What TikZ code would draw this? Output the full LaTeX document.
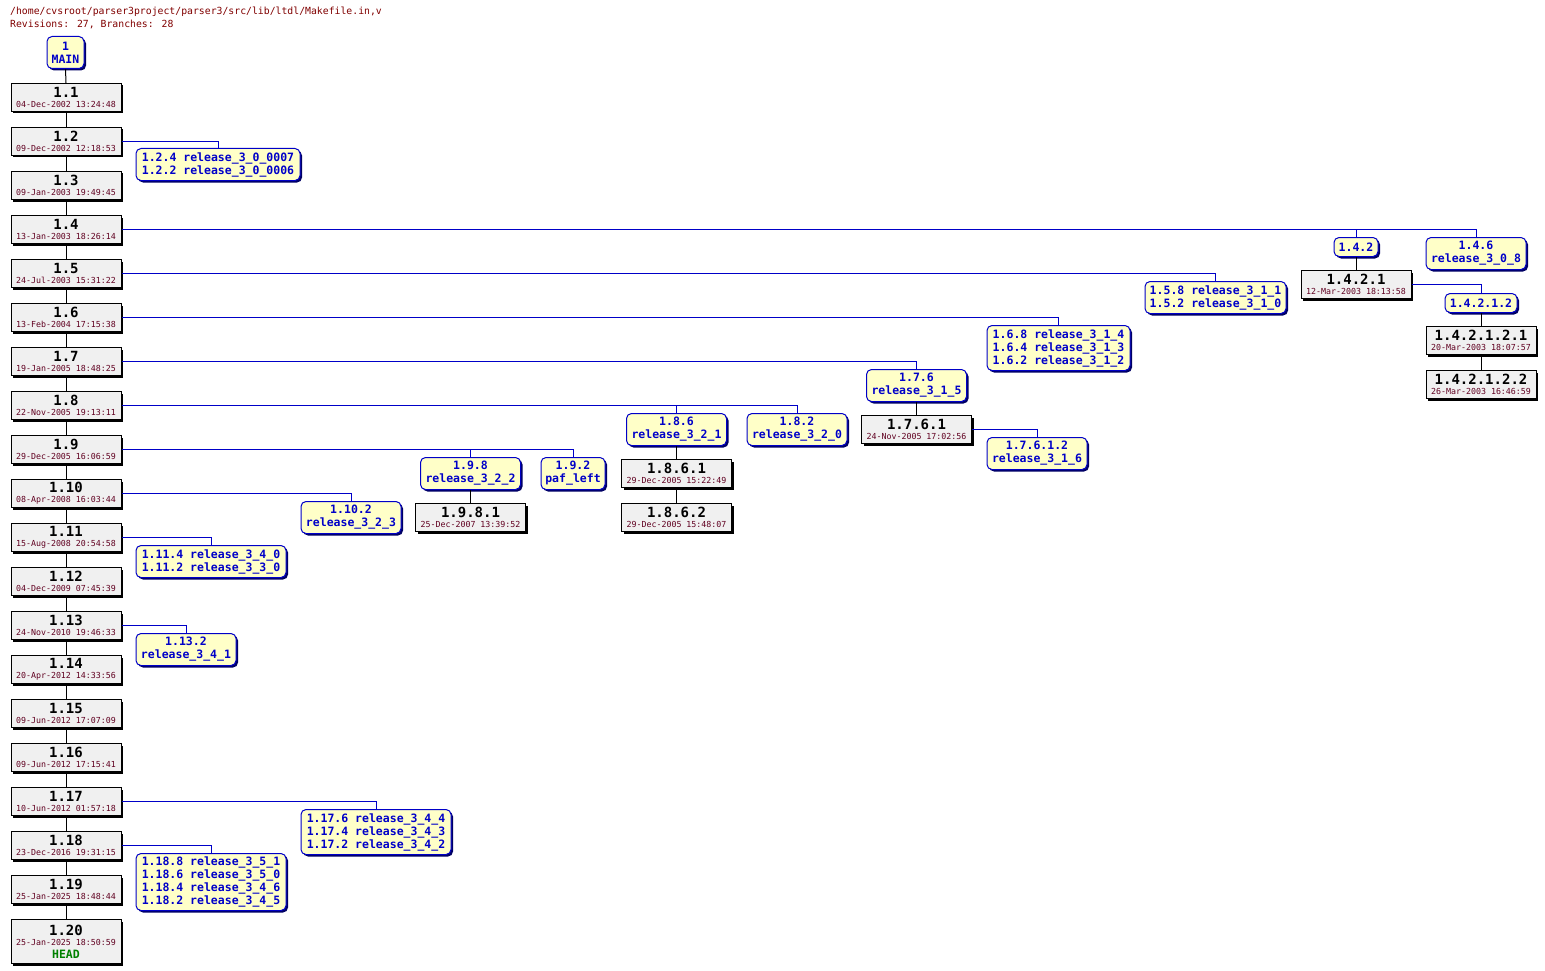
\documentclass[tikz,border=0pt]{standalone}
\usepackage{fontspec}
\newfontfamily\cvsf{DejaVu Sans Mono}
\usetikzlibrary{shadows}
\definecolor{tagfill}{HTML}{FFFFC8}
\definecolor{tagblue}{HTML}{0000C8}
\definecolor{datec}{HTML}{600020}
\definecolor{revfill}{HTML}{F0F0F0}
\definecolor{headc}{HTML}{008000}
\definecolor{hdrc}{HTML}{800000}
\newcommand\rn[2]{\begin{minipage}{106pt}\centering\cvsf\fontsize{14}{14}\selectfont\bfseries #1\par\mdseries\fontsize{8.3}{10}\selectfont\color{datec}#2\par\end{minipage}}
\newcommand\rnhead[2]{\begin{minipage}{106pt}\centering\cvsf\fontsize{14}{14}\selectfont\bfseries #1\par\mdseries\fontsize{8.3}{10}\selectfont\color{datec}#2\par\fontsize{11.5}{13}\selectfont\bfseries\color{headc}HEAD\par\end{minipage}}
\begin{document}
\begin{tikzpicture}[x=1pt,y=-1pt,
  rev/.style={draw=black, fill=revfill, line width=1pt, minimum width=110pt, minimum height=28pt, inner sep=0pt, anchor=north,
    general shadow={fill=black, shadow xshift=2pt, shadow yshift=-2pt}},
  tag/.style={draw=tagblue, fill=tagfill, rounded corners=5pt, line width=1pt, inner sep=0pt, anchor=north, align=center,
    font=\cvsf\bfseries\fontsize{11.5}{13}\selectfont, text=tagblue,
    general shadow={fill=tagblue!50!black, shadow xshift=2pt, shadow yshift=-2pt}},
  trunk/.style={draw=black, line width=1pt},
  br/.style={draw=tagblue, line width=1pt},
  hdr/.style={anchor=base west, inner sep=0pt, font=\cvsf\fontsize{9.8}{11}\selectfont, text=hdrc}]
\useasboundingbox (0,0) rectangle (1545,971);
\node[hdr] (h1) at (10,15) {/home/cvsroot/parser3project/parser3/src/lib/ltdl/Makefile.in,v};
\node[hdr] (h2) at (10,28) {Revisions: 27, Branches: 28};
% MAIN
\node[tag, minimum width=37pt, minimum height=32pt] (tm) at (65.5,36) {1\\MAIN};
% trunk
\node[rev] (r1) at (66,83) {\rn{1.1}{04-Dec-2002 13:24:48}};
\node[rev] (r2) at (66,127) {\rn{1.2}{09-Dec-2002 12:18:53}};
\node[rev] (r3) at (66,171) {\rn{1.3}{09-Jan-2003 19:49:45}};
\node[rev] (r4) at (66,215) {\rn{1.4}{13-Jan-2003 18:26:14}};
\node[rev] (r5) at (66,259) {\rn{1.5}{24-Jul-2003 15:31:22}};
\node[rev] (r6) at (66,303) {\rn{1.6}{13-Feb-2004 17:15:38}};
\node[rev] (r7) at (66,347) {\rn{1.7}{19-Jan-2005 18:48:25}};
\node[rev] (r8) at (66,391) {\rn{1.8}{22-Nov-2005 19:13:11}};
\node[rev] (r9) at (66,435) {\rn{1.9}{29-Dec-2005 16:06:59}};
\node[rev] (r10) at (66,479) {\rn{1.10}{08-Apr-2008 16:03:44}};
\node[rev] (r11) at (66,523) {\rn{1.11}{15-Aug-2008 20:54:58}};
\node[rev] (r12) at (66,567) {\rn{1.12}{04-Dec-2009 07:45:39}};
\node[rev] (r13) at (66,611) {\rn{1.13}{24-Nov-2010 19:46:33}};
\node[rev] (r14) at (66,655) {\rn{1.14}{20-Apr-2012 14:33:56}};
\node[rev] (r15) at (66,699) {\rn{1.15}{09-Jun-2012 17:07:09}};
\node[rev] (r16) at (66,743) {\rn{1.16}{09-Jun-2012 17:15:41}};
\node[rev] (r17) at (66,787) {\rn{1.17}{10-Jun-2012 01:57:18}};
\node[rev] (r18) at (66,831) {\rn{1.18}{23-Dec-2016 19:31:15}};
\node[rev] (r19) at (66,875) {\rn{1.19}{25-Jan-2025 18:48:44}};
\node[rev, minimum height=44pt] (r20) at (66,919) {\rnhead{1.20}{25-Jan-2025 18:50:59}};
% branch tags
\node[tag, minimum width=164pt, minimum height=32pt] (t2) at (218,148) {1.2.4 release\_3\_0\_0007\\1.2.2 release\_3\_0\_0006};
\node[tag, minimum width=44pt, minimum height=19pt] (t42) at (1356,237) {1.4.2};
\node[tag, minimum width=100pt, minimum height=32pt] (t46) at (1476,237) {1.4.6\\release\_3\_0\_8};
\node[rev] (r421) at (1356,270) {\rn{1.4.2.1}{12-Mar-2003 18:13:58}};
\node[tag, minimum width=72pt, minimum height=19pt] (t4212) at (1481,293) {1.4.2.1.2};
\node[rev] (r42121) at (1481,326) {\rn{1.4.2.1.2.1}{20-Mar-2003 18:07:57}};
\node[rev] (r42122) at (1481,370) {\rn{1.4.2.1.2.2}{26-Mar-2003 16:46:59}};
\node[tag, minimum width=141pt, minimum height=32pt] (t5) at (1215.5,281) {1.5.8 release\_3\_1\_1\\1.5.2 release\_3\_1\_0};
\node[tag, minimum width=143pt, minimum height=45pt] (t6) at (1058.5,325) {1.6.8 release\_3\_1\_4\\1.6.4 release\_3\_1\_3\\1.6.2 release\_3\_1\_2};
\node[tag, minimum width=100pt, minimum height=32pt] (t7) at (916.5,369) {1.7.6\\release\_3\_1\_5};
\node[rev] (r761) at (916.5,415) {\rn{1.7.6.1}{24-Nov-2005 17:02:56}};
\node[tag, minimum width=100pt, minimum height=32pt] (t7612) at (1037,437) {1.7.6.1.2\\release\_3\_1\_6};
\node[tag, minimum width=100pt, minimum height=32pt] (t86) at (676.5,413) {1.8.6\\release\_3\_2\_1};
\node[tag, minimum width=100pt, minimum height=32pt] (t82) at (797,413) {1.8.2\\release\_3\_2\_0};
\node[rev] (r861) at (676.5,459) {\rn{1.8.6.1}{29-Dec-2005 15:22:49}};
\node[rev] (r862) at (676.5,503) {\rn{1.8.6.2}{29-Dec-2005 15:48:07}};
\node[tag, minimum width=100pt, minimum height=32pt] (t98) at (470.5,457) {1.9.8\\release\_3\_2\_2};
\node[tag, minimum width=64pt, minimum height=32pt] (t92) at (573,457) {1.9.2\\paf\_left};
\node[rev] (r981) at (470.5,503) {\rn{1.9.8.1}{25-Dec-2007 13:39:52}};
\node[tag, minimum width=100pt, minimum height=32pt] (t10) at (351,501) {1.10.2\\release\_3\_2\_3};
\node[tag, minimum width=150pt, minimum height=32pt] (t11) at (211,545) {1.11.4 release\_3\_4\_0\\1.11.2 release\_3\_3\_0};
\node[tag, minimum width=100pt, minimum height=32pt] (t13) at (186,633) {1.13.2\\release\_3\_4\_1};
\node[tag, minimum width=150pt, minimum height=45pt] (t17) at (376,809) {1.17.6 release\_3\_4\_4\\1.17.4 release\_3\_4\_3\\1.17.2 release\_3\_4\_2};
\node[tag, minimum width=150pt, minimum height=57pt] (t18) at (211,853) {1.18.8 release\_3\_5\_1\\1.18.6 release\_3\_5\_0\\1.18.4 release\_3\_4\_6\\1.18.2 release\_3\_4\_5};
% trunk connectors
\draw[trunk] (tm.south) -- (r1.north);
\foreach \a [evaluate=\a as \b using int(\a+1)] in {1,...,19} \draw[trunk] (r\a.south) -- (r\b.north);
\draw[trunk] (t42.south) -- (r421.north);
\draw[trunk] (t4212.south) -- (r42121.north);
\draw[trunk] (r42121.south) -- (r42122.north);
\draw[trunk] (t7.south) -- (r761.north);
\draw[trunk] (t86.south) -- (r861.north);
\draw[trunk] (r861.south) -- (r862.north);
\draw[trunk] (t98.south) -- (r981.north);
% branch connectors
\draw[br] (r2.east) -| (t2.north);
\draw[br] (r4.east) -| (t42.north);
\draw[br] (r4.east) -| (t46.north);
\draw[br] (r421.east) -| (t4212.north);
\draw[br] (r5.east) -| (t5.north);
\draw[br] (r6.east) -| (t6.north);
\draw[br] (r7.east) -| (t7.north);
\draw[br] (r761.east) -| (t7612.north);
\draw[br] (r8.east) -| (t86.north);
\draw[br] (r8.east) -| (t82.north);
\draw[br] (r9.east) -| (t98.north);
\draw[br] (r9.east) -| (t92.north);
\draw[br] (r10.east) -| (t10.north);
\draw[br] (r11.east) -| (t11.north);
\draw[br] (r13.east) -| (t13.north);
\draw[br] (r17.east) -| (t17.north);
\draw[br] (r18.east) -| (t18.north);
\end{tikzpicture}
\end{document}
